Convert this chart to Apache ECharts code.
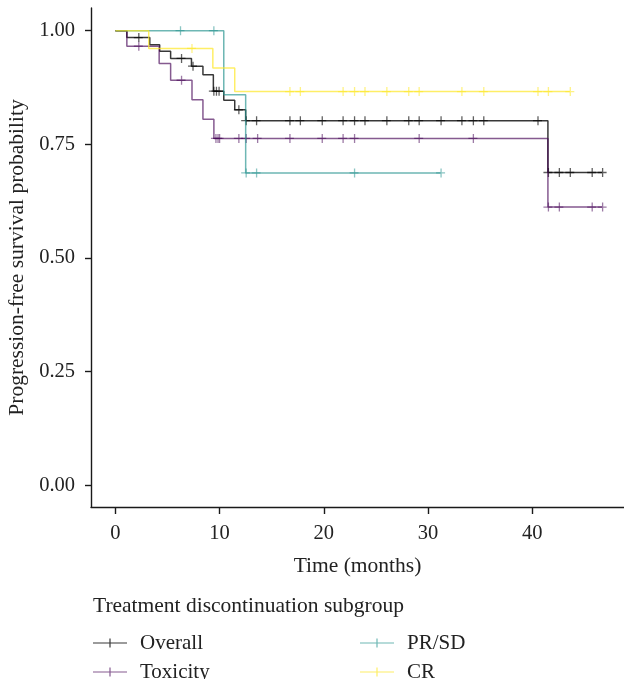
<!DOCTYPE html>
<html>
<head>
<meta charset="utf-8">
<script src="https://cdn.jsdelivr.net/npm/echarts@6/dist/echarts.min.js"></script>
<style>
  html, body { margin: 0; padding: 0; background: #fff; }
  #kmChart { width: 624px; height: 679px; }
</style>
</head>
<body>
<div id="kmChart"></div>
<script>
// Kaplan-Meier steps: time (months) of each drop and survival after it
var overallTimes = [0, 1.1, 3.3, 4.25, 5.3, 7.3, 8.4, 9.4, 10.4, 11.45, 12.5, 41.5, 46.7];
var overallSurv = [1, 0.985, 0.969, 0.955, 0.939, 0.922, 0.903, 0.867, 0.847, 0.826, 0.802, 0.688, 0.688];
var overallCensor = [2.2, 6.3, 7.4, 9.4, 9.65, 9.9, 11.8, 12.5, 13.5, 16.7, 17.7, 19.8, 21.8, 22.9, 23.9, 26.0, 28.1, 29.1, 31.2, 33.2, 34.3, 35.3, 40.5, 41.5, 42.55, 43.6, 45.7, 46.7];

var toxTimes = [0, 1.1, 4.2, 5.3, 7.35, 8.4, 9.45, 41.5, 46.7];
var toxSurv = [1, 0.966, 0.928, 0.891, 0.848, 0.805, 0.763, 0.612, 0.612];
var toxCensor = [2.2, 6.3, 9.6, 9.8, 9.95, 11.8, 12.5, 13.6, 16.7, 19.8, 21.8, 22.9, 29.1, 34.3, 41.5, 42.55, 45.7, 46.7];

var prsdTimes = [0, 10.4, 12.5, 31.2];
var prsdSurv = [1, 0.859, 0.687, 0.687];
var prsdCensor = [6.2, 9.4, 12.5, 13.5, 22.9, 31.2];

var crTimes = [0, 3.2, 9.35, 11.45, 43.6];
var crSurv = [1, 0.961, 0.918, 0.866, 0.866];
var crCensor = [7.3, 16.7, 17.7, 21.8, 22.9, 23.9, 26.0, 28.1, 29.1, 33.2, 35.3, 40.5, 41.5, 43.6];

var xTicks = [0, 10, 20, 30, 40];
var yTicks = [0, 0.25, 0.5, 0.75, 1];

var fontName = '"Liberation Serif", "DejaVu Serif", serif';
var plusIcon = 'path://M4.35,0 L5.65,0 L5.65,9 L4.35,9 Z M0,3.85 L9,3.85 L9,5.15 L0,5.15 Z';
var legendIcon = 'path://M0,3.9 L34,3.9 L34,5.1 L0,5.1 Z M16.4,0 L17.6,0 L17.6,9 L16.4,9 Z';

function stepPairs(times, surv) {
    return times.map(function (t, i) { return [t, surv[i]]; });
}
// put each censor mark on the curve level at that time
function censorPairs(censor, times, surv) {
    return censor.map(function (c) {
        var v = surv[0];
        for (var i = 0; i < times.length; i++) {
            if (times[i] <= c) v = surv[i];
        }
        return [c, v];
    });
}

function groupSeries(name, color, times, surv, censor) {
    return [{
        name: name,
        type: 'line',
        step: 'end',
        showSymbol: false,
        silent: true,
        itemStyle: { color: color },
        lineStyle: { color: color, width: 1.5 },
        data: stepPairs(times, surv)
    }, {
        name: name + ' censored',
        type: 'scatter',
        symbol: plusIcon,
        symbolSize: 9,
        silent: true,
        itemStyle: { color: color },
        data: censorPairs(censor, times, surv)
    }];
}

// one legend per entry so the 2x2 block keeps its columns
function legendEntry(name, left, top) {
    return {
        left: left,
        top: top,
        itemWidth: 34,
        itemHeight: 9,
        icon: legendIcon,
        data: [name],
        textStyle: { fontFamily: fontName, fontSize: 21, color: '#222', padding: [0, 0, 0, 8] }
    };
}

var chart = echarts.init(document.getElementById('kmChart'));

var option = {
    animation: false,
    title: {
        text: 'Treatment discontinuation subgroup',
        left: 88,
        top: 590,
        textStyle: { fontFamily: fontName, fontSize: 21.5, fontWeight: 'normal', color: '#222' }
    },
    legend: [
        legendEntry('Overall', 88, 627.5),
        legendEntry('Toxicity', 88, 656.5),
        legendEntry('PR/SD', 355, 627.5),
        legendEntry('CR', 355, 656.5)
    ],
    grid: { left: 91, top: 8, right: 0, bottom: 172, outerBoundsMode: 'none', containLabel: false },
    xAxis: {
        type: 'value',
        min: -2.34,
        max: 48.8,
        name: 'Time (months)',
        nameLocation: 'middle',
        nameGap: 48.5,
        nameTextStyle: { fontFamily: fontName, fontSize: 21.5, color: '#222' },
        axisLine: { show: true, onZero: false, lineStyle: { color: '#1a1a1a', width: 1.4 } },
        axisTick: { show: true, length: 7, customValues: xTicks, lineStyle: { color: '#1a1a1a', width: 1.4 } },
        axisLabel: { customValues: xTicks, margin: 16, fontFamily: fontName, fontSize: 20.5, color: '#222' },
        splitLine: { show: false }
    },
    yAxis: {
        type: 'value',
        min: -0.048,
        max: 1.05,
        name: 'Progression-free survival probability',
        nameLocation: 'middle',
        nameGap: 62.5,
        nameTextStyle: { fontFamily: fontName, fontSize: 21.5, color: '#222' },
        axisLine: { show: true, onZero: false, lineStyle: { color: '#1a1a1a', width: 1.4 } },
        axisTick: { show: true, length: 6, customValues: yTicks, lineStyle: { color: '#1a1a1a', width: 1.4 } },
        axisLabel: {
            customValues: yTicks,
            margin: 16,
            fontFamily: fontName,
            fontSize: 20.5,
            color: '#222',
            formatter: function (v) { return v.toFixed(2); }
        },
        splitLine: { show: false }
    },
    series: [].concat(
        groupSeries('Overall', 'rgba(0,0,0,0.78)', overallTimes, overallSurv, overallCensor),
        groupSeries('Toxicity', 'rgba(68,1,84,0.65)', toxTimes, toxSurv, toxCensor),
        groupSeries('PR/SD', 'rgba(33,144,140,0.65)', prsdTimes, prsdSurv, prsdCensor),
        groupSeries('CR', 'rgba(253,231,37,0.7)', crTimes, crSurv, crCensor)
    )
};

chart.setOption(option);
</script>
</body>
</html>
